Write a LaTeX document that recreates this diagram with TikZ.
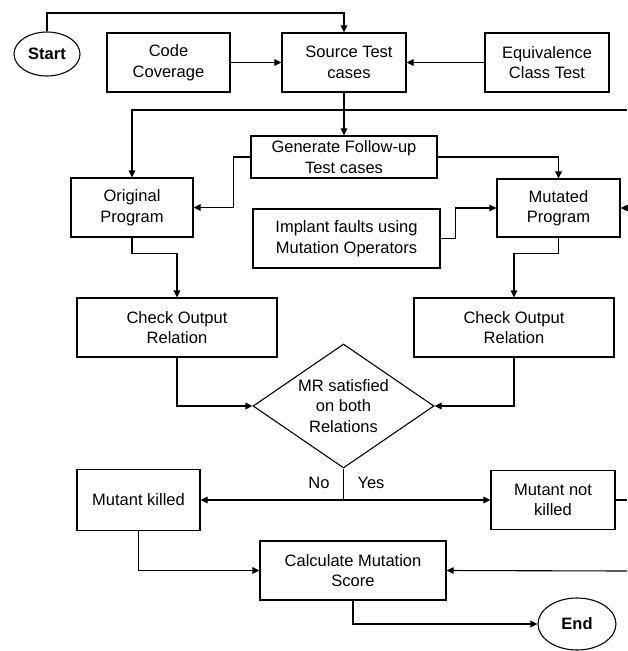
\documentclass[tikz,border=0pt]{standalone}
\usepackage{fontspec}
\setmainfont{Liberation Sans}
\usetikzlibrary{shapes.geometric,arrows.meta}
\begin{document}
\begin{tikzpicture}[x=1pt,y=-1pt,
  every node/.style={font=\fontsize{16.5}{20.5}\selectfont, align=center, inner sep=0pt, text=black},
  box/.style={draw, rectangle, line width=1.1pt},
  oval/.style={draw, ellipse, line width=1.1pt, font=\fontsize{16.5}{20}\selectfont\bfseries},
  dia/.style={draw, diamond, line width=1.1pt},
  conn/.style={line width=1.1pt},
  arr/.style={conn, -{Triangle[length=7pt,width=6.5pt]}},
  lbl/.style={font=\fontsize{16.5}{20}\selectfont}
]
\useasboundingbox (0,0) rectangle (627,651);
% nodes
\node[oval, minimum width=66pt, minimum height=44pt] (start) at (47,54) {Start};
\node[box, minimum width=123pt, minimum height=59pt] (cc) at (168.5,62.5) {Code\\Coverage};
\node[box, minimum width=124pt, minimum height=59pt] (src) at (344,62.5) {\hspace*{10pt}Source Test\\\hspace*{10pt}cases};
\node[box, minimum width=124pt, minimum height=59pt] (eq) at (547,62.5) {Equivalence\\Class Test};
\node[box, minimum width=186pt, minimum height=42pt] (gen) at (344,157) {Generate Follow-up\\Test cases};
\node[box, minimum width=122pt, minimum height=59pt] (orig) at (132,207.5) {Original\\Program};
\node[box, minimum width=123pt, minimum height=58pt] (mut) at (558.5,208) {Mutated\\Program};
\node[box, minimum width=187pt, minimum height=59pt] (impl) at (346.5,238.5) {Implant faults using\\Mutation Operators};
\node[box, minimum width=200pt, minimum height=59pt] (chkL) at (177,327.5) {Check Output\\Relation};
\node[box, minimum width=200pt, minimum height=59pt] (chkR) at (514,327.5) {Check Output\\Relation};
\node[dia, minimum width=181pt, minimum height=124pt, aspect=1.46] (mr) at (343.5,406) {MR satisfied\\on both\\Relations};
\node[box, minimum width=123pt, minimum height=61pt] (killed) at (138.5,500) {Mutant killed};
\node[box, minimum width=124pt, minimum height=59pt] (notk) at (553,500) {Mutant not\\killed};
\node[box, minimum width=186pt, minimum height=59pt] (calc) at (353,570.5) {Calculate Mutation\\Score};
\node[oval, minimum width=78pt, minimum height=52pt] (end) at (577,624) {End};
% labels
\node[lbl] (no) at (319,483) {No};
\node[lbl] (yes) at (371,483) {Yes};
% coordinates at right edge
\coordinate (topline) at (47,13);
\coordinate (r1) at (627,110);
\coordinate (r2) at (627,208);
\coordinate (r3) at (627,500);
\coordinate (r4) at (627,571);
\coordinate (split) at (343.5,500);
% connectors
\draw[arr] (start.north) -- (topline) -| (src.north);
\draw[arr] (cc.east) -- (src.west);
\draw[arr] (eq.west) -- (src.east);
\draw[arr] (src.south) -- (gen.north);
\draw[arr] (r1) -| (orig.north);
\draw[arr] (gen.west) -- ++(-17,0) |- (orig.east);
\draw[arr] (gen.east) -| (mut.north);
\draw[arr] (impl.east) -- ++(15,0) |- (mut.west);
\draw[arr] (r2) -- (mut.east);
\draw[arr] (orig.south) -- ++(0,16) -| (chkL.north);
\draw[arr] (mut.south) -- ++(0,16) -| (chkR.north);
\draw[arr] (chkL.south) |- (mr.west);
\draw[arr] (chkR.south) |- (mr.east);
\draw[conn] (mr.south) -- (split);
\draw[arr] (split) -- (killed.east);
\draw[arr] (split) -- (notk.west);
\draw[conn] (notk.east) -- (r3);
\draw[arr] (killed.south) |- (calc.west);
\draw[arr] (r4) -- (calc.east);
\draw[arr] (calc.south) |- (end.west);
\end{tikzpicture}
\end{document}
